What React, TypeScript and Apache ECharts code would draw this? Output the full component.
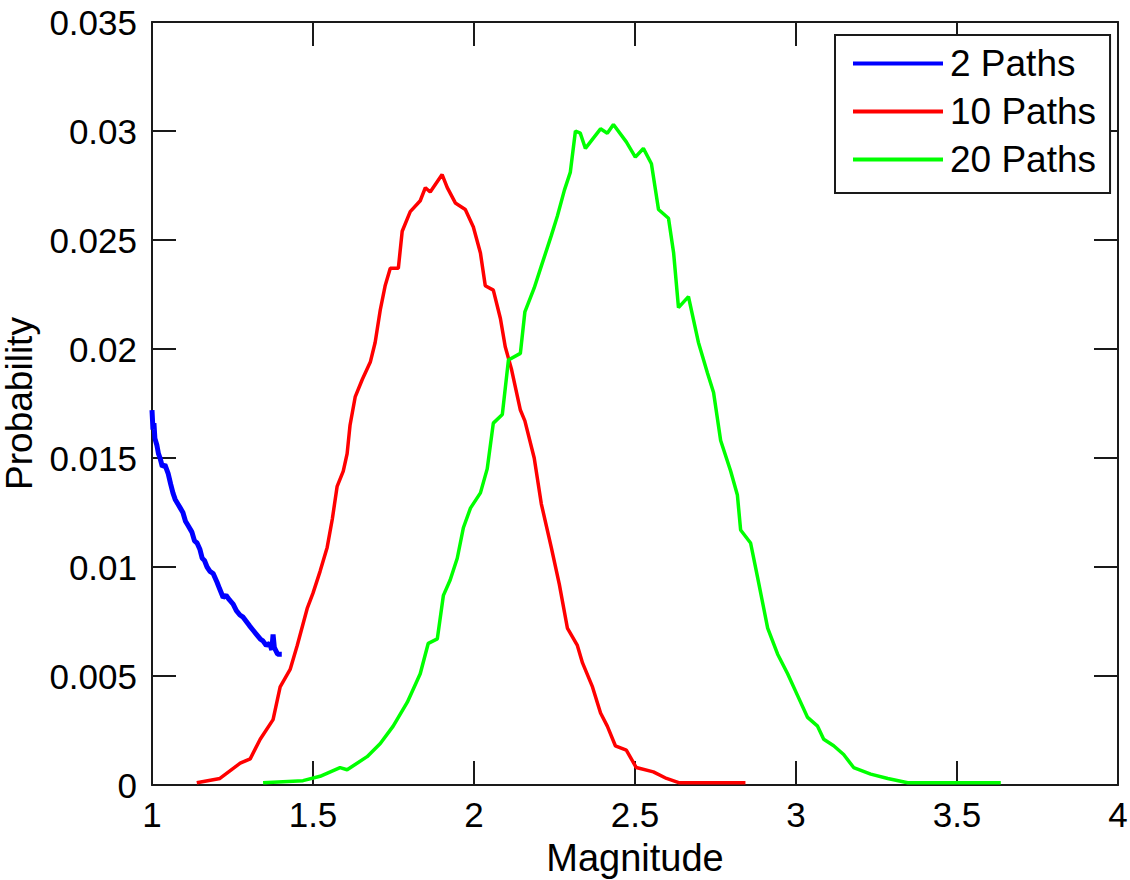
import React, { useEffect, useRef } from "react";
import * as echarts from "echarts";

const seriesNames = ["2 Paths", "10 Paths", "20 Paths"];
const seriesColors = ["#0000ff", "#ff0000", "#00ff00"];
const seriesWidths = [5, 3.5, 3.5];

const paths2: [number, number][] = [
  [1.0, 0.0172], [1.003, 0.0163], [1.006, 0.0166], [1.009, 0.0159], [1.015, 0.0156], [1.02, 0.0152],
  [1.025, 0.015], [1.032, 0.0146], [1.04, 0.0147], [1.05, 0.0143], [1.058, 0.0138],
  [1.065, 0.0134], [1.072, 0.0131], [1.08, 0.0129], [1.088, 0.0127], [1.096, 0.0125],
  [1.104, 0.0121], [1.112, 0.0119], [1.124, 0.0116], [1.132, 0.0112], [1.14, 0.0111],
  [1.149, 0.0108], [1.156, 0.0104], [1.163, 0.0103], [1.171, 0.01], [1.18, 0.0098],
  [1.19, 0.0097], [1.202, 0.0093], [1.21, 0.009], [1.221, 0.0086], [1.23, 0.0087],
  [1.24, 0.0085], [1.252, 0.0083], [1.262, 0.008], [1.273, 0.0078], [1.283, 0.0077],
  [1.293, 0.0075], [1.303, 0.0073], [1.314, 0.0071], [1.325, 0.0069], [1.336, 0.0067],
  [1.345, 0.0066], [1.355, 0.0064], [1.365, 0.0065], [1.372, 0.0062], [1.376, 0.0069],
  [1.38, 0.0063], [1.39, 0.006], [1.403, 0.006],
];

const paths10: [number, number][] = [
  [1.139, 0.0001], [1.211, 0.0003], [1.274, 0.001], [1.305, 0.0012], [1.336, 0.0021],
  [1.376, 0.003], [1.398, 0.0045], [1.429, 0.0053], [1.451, 0.0064], [1.482, 0.0081],
  [1.5, 0.0088], [1.522, 0.0098], [1.544, 0.0109], [1.56, 0.0122], [1.575, 0.0137],
  [1.594, 0.0144], [1.606, 0.0152], [1.615, 0.0165], [1.631, 0.0178], [1.653, 0.0186],
  [1.678, 0.0194], [1.693, 0.0203], [1.709, 0.0218], [1.724, 0.0229], [1.74, 0.0237],
  [1.765, 0.0237], [1.777, 0.0254], [1.802, 0.0263], [1.833, 0.0268], [1.849, 0.0274],
  [1.864, 0.0272], [1.901, 0.028], [1.917, 0.0274], [1.942, 0.0267], [1.973, 0.0264],
  [1.998, 0.0256], [2.02, 0.0244], [2.035, 0.0229], [2.06, 0.0227], [2.082, 0.0214],
  [2.097, 0.0201], [2.116, 0.0191], [2.144, 0.0172], [2.158, 0.0167], [2.187, 0.015],
  [2.209, 0.0129], [2.24, 0.0109], [2.265, 0.0092], [2.29, 0.0072], [2.321, 0.0064],
  [2.337, 0.0056], [2.368, 0.0045], [2.393, 0.0033], [2.414, 0.0027], [2.439, 0.0018],
  [2.473, 0.0016], [2.504, 0.0008], [2.557, 0.0006], [2.598, 0.0003], [2.638, 0.0001],
  [2.759, 0.0001], [2.843, 0.0001],
];

const paths20: [number, number][] = [
  [1.345, 0.0001], [1.469, 0.0002], [1.522, 0.0004], [1.584, 0.0008], [1.606, 0.0007],
  [1.668, 0.0013], [1.709, 0.0019], [1.749, 0.0027], [1.793, 0.0038], [1.833, 0.0051],
  [1.858, 0.0065], [1.886, 0.0067], [1.905, 0.0087], [1.926, 0.0094], [1.948, 0.0104],
  [1.967, 0.0118], [1.989, 0.0127], [2.02, 0.0134], [2.041, 0.0145], [2.06, 0.0166],
  [2.088, 0.017], [2.107, 0.0195], [2.144, 0.0198], [2.158, 0.0217], [2.187, 0.0228],
  [2.209, 0.0238], [2.24, 0.0252], [2.259, 0.0261], [2.281, 0.0273], [2.299, 0.0281],
  [2.315, 0.03], [2.33, 0.0299], [2.346, 0.0292], [2.393, 0.0301], [2.414, 0.0299],
  [2.433, 0.0303], [2.473, 0.0295], [2.501, 0.0288], [2.526, 0.0292], [2.551, 0.0285],
  [2.573, 0.0264], [2.604, 0.026], [2.62, 0.0244], [2.635, 0.0219], [2.666, 0.0224],
  [2.697, 0.0203], [2.725, 0.0189], [2.744, 0.018], [2.766, 0.0158], [2.797, 0.0144],
  [2.818, 0.0133], [2.828, 0.0117], [2.859, 0.0111], [2.881, 0.0095], [2.912, 0.0072],
  [2.943, 0.006], [2.974, 0.0051], [3.005, 0.0041], [3.036, 0.0031], [3.067, 0.0027],
  [3.086, 0.0021], [3.117, 0.0018], [3.148, 0.0014], [3.179, 0.0008], [3.232, 0.0005],
  [3.285, 0.0003], [3.347, 0.0001], [3.512, 0.0001], [3.636, 0.0001],
];

const seriesData = [paths2, paths10, paths20];

const xMin = 1, xMax = 4, xStep = 0.5;
const yMin = 0, yMax = 0.035, yStep = 0.005;
const xName = "Magnitude";
const yName = "Probability";

const FONT = "'Liberation Sans', Arial, Helvetica, sans-serif";
const AXIS_COLOR = "#1a1a1a";

export default function App() {
  const ref = useRef<HTMLDivElement>(null);
  useEffect(() => {
    if (!ref.current) return;
    const chart = echarts.init(ref.current, undefined, { renderer: "svg" });
    const fmt = (v: number) => String(Number(v.toFixed(4)));
    const axisLine = { show: true, onZero: false, lineStyle: { color: AXIS_COLOR, width: 2 } };
    const tick = { show: true, inside: true, length: 24, lineStyle: { color: AXIS_COLOR, width: 2 } };
    chart.setOption({
      animation: false,
      backgroundColor: "#ffffff",
      textStyle: { fontFamily: FONT },
      grid: { left: 152, top: 22, right: 12, bottom: 95, containLabel: false, outerBoundsMode: "none" },
      legend: {
        show: true,
        orient: "vertical",
        left: 835,
        top: 35,
        data: seriesNames.map((n) => ({ name: n, icon: "rect" })),
        itemWidth: 90,
        itemHeight: 4,
        itemGap: 11,
        padding: [10, 14, 15, 18],
        borderColor: AXIS_COLOR,
        borderWidth: 2,
        backgroundColor: "#ffffff",
        textStyle: { fontFamily: FONT, fontSize: 37, color: "#000", lineHeight: 36, padding: [0, 0, 0, 2] },
      },
      xAxis: [
        {
          type: "value",
          min: xMin,
          max: xMax,
          interval: xStep,
          position: "bottom",
          name: xName,
          nameLocation: "middle",
          nameGap: 54,
          nameTextStyle: { fontFamily: FONT, fontSize: 38, color: "#000" },
          axisLine,
          axisTick: tick,
          axisLabel: { show: true, margin: 12, fontFamily: FONT, fontSize: 35, color: "#000", formatter: fmt },
          splitLine: { show: false },
        },
        {
          type: "value",
          min: xMin,
          max: xMax,
          interval: xStep,
          position: "top",
          axisLine,
          axisTick: tick,
          axisLabel: { show: false },
          splitLine: { show: false },
        },
      ],
      yAxis: [
        {
          type: "value",
          min: yMin,
          max: yMax,
          interval: yStep,
          position: "left",
          name: yName,
          nameLocation: "middle",
          nameGap: 99,
          nameTextStyle: { fontFamily: FONT, fontSize: 37, color: "#000", lineHeight: 38 },
          axisLine,
          axisTick: tick,
          axisLabel: { show: true, margin: 15, fontFamily: FONT, fontSize: 35, color: "#000", formatter: fmt },
          splitLine: { show: false },
        },
        {
          type: "value",
          min: yMin,
          max: yMax,
          interval: yStep,
          position: "right",
          axisLine,
          axisTick: tick,
          axisLabel: { show: false },
          splitLine: { show: false },
        },
      ],
      series: seriesNames.map((name, i) => ({
        name,
        type: "line",
        xAxisIndex: 0,
        yAxisIndex: 0,
        data: seriesData[i],
        showSymbol: false,
        symbol: "none",
        color: seriesColors[i],
        lineStyle: { color: seriesColors[i], width: seriesWidths[i] },
        z: 3,
      })),
    });
    return () => chart.dispose();
  }, []);
  return (
    <div
      ref={ref}
      style={{ position: "fixed", left: 0, top: 0, width: 1130, height: 880, background: "#fff" }}
    />
  );
}
